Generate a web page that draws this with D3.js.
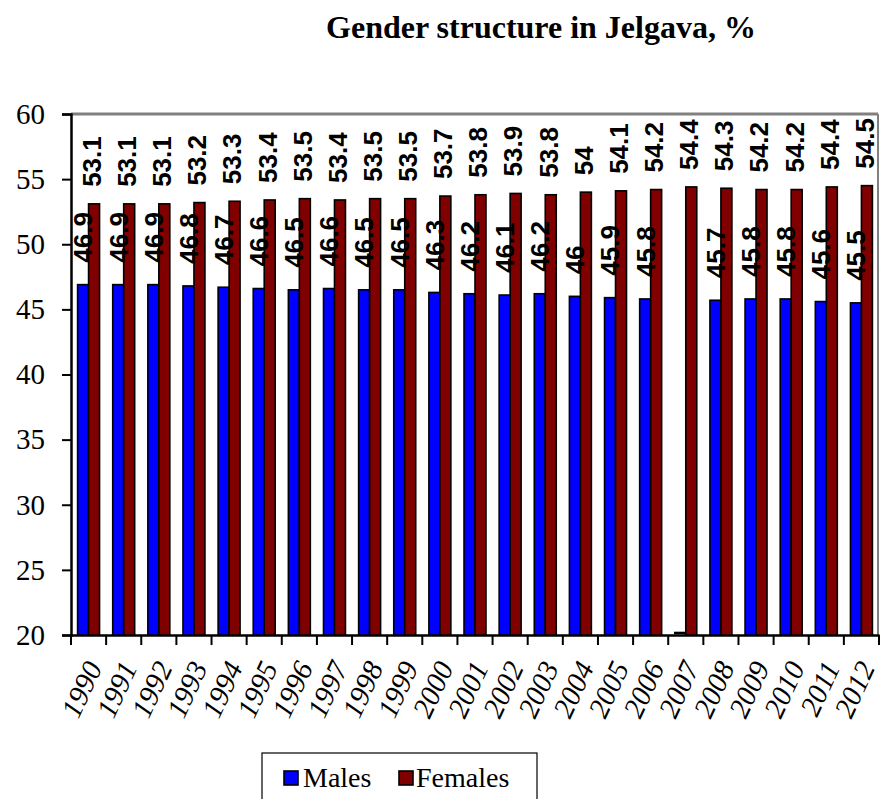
<!DOCTYPE html>
<html>
<head>
<meta charset="utf-8">
<script src="https://cdn.jsdelivr.net/npm/d3@7"></script>
<style>
  body { margin: 0; background: #fff; }
  svg { display: block; }
</style>
</head>
<body>
<div id="chart"></div>
<script>
// Data
const years = ["1990","1991","1992","1993","1994","1995","1996","1997","1998","1999","2000",
  "2001","2002","2003","2004","2005","2006","2007","2008","2009","2010","2011","2012"];
const males = [46.9,46.9,46.9,46.8,46.7,46.6,46.5,46.6,46.5,46.5,46.3,
  46.2,46.1,46.2,46,45.9,45.8,null,45.7,45.8,45.8,45.6,45.5];
const females = [53.1,53.1,53.1,53.2,53.3,53.4,53.5,53.4,53.5,53.5,53.7,
  53.8,53.9,53.8,54,54.1,54.2,54.4,54.3,54.2,54.2,54.4,54.5];
const series = ["Males", "Females"];
const colors = ["#0000ff", "#800000"];
const yTicks = [20, 25, 30, 35, 40, 45, 50, 55, 60];

const W = 880, H = 799;
const plot = { left: 71, right: 879, top: 114, bottom: 635 };
const SERIF = "'Liberation Serif', 'Times New Roman', serif";

const svg = d3.select("#chart").append("svg")
  .attr("width", W).attr("height", H);

// Title
svg.append("text")
  .attr("x", 541).attr("y", 38)
  .attr("text-anchor", "middle")
  .attr("font-family", SERIF)
  .style("font-weight", "bold")
  .style("font-size", "32px")
  .text("Gender structure in Jelgava, %");

// Scales
const x = d3.scaleBand().domain(years).range([plot.left, plot.right]).padding(0);
const xs = d3.scaleBand().domain(series).range([0, x.bandwidth()])
  .paddingInner(0).paddingOuter(0.6);
const y = d3.scaleLinear().domain([20, 60]).range([plot.bottom, plot.top]);

// Plot frame: grey top / right
svg.append("line")
  .attr("x1", plot.left).attr("x2", 878)
  .attr("y1", plot.top).attr("y2", plot.top)
  .attr("stroke", "#808080").attr("stroke-width", 3);
svg.append("line")
  .attr("x1", 878).attr("x2", 878)
  .attr("y1", plot.top).attr("y2", plot.bottom)
  .attr("stroke", "#808080").attr("stroke-width", 2);

// Axes
const yAxis = svg.append("g")
  .attr("transform", `translate(${plot.left},0)`)
  .call(d3.axisLeft(y).tickValues(yTicks).tickSize(9).tickPadding(17).tickFormat(d3.format("d")));
yAxis.attr("font-family", null);
yAxis.select(".domain").attr("stroke-width", 2.5);
yAxis.selectAll(".tick line").attr("stroke-width", 2);
yAxis.selectAll("text")
  .attr("font-family", SERIF)
  .style("font-size", "29px")
  .attr("fill", "#000");

const xAxis = svg.append("g")
  .attr("transform", `translate(0,${plot.bottom})`)
  .call(d3.axisBottom(x).tickSize(0).tickFormat(""));
xAxis.select(".domain").attr("stroke-width", 2.5);
xAxis.selectAll(".tick").remove();

// boundary ticks between categories
svg.append("g").selectAll("line")
  .data(years.concat(["end"]))
  .join("line")
  .attr("x1", (d, i) => plot.left + i * x.step())
  .attr("x2", (d, i) => plot.left + i * x.step())
  .attr("y1", plot.bottom).attr("y2", plot.bottom + 10)
  .attr("stroke", "#000").attr("stroke-width", 2);

// Bars (missing value drawn as a flat bar on the baseline)
const rows = years.map((yr, i) => ({ year: yr, values: [males[i], females[i]] }));
const groups = svg.append("g").selectAll("g")
  .data(rows).join("g")
  .attr("transform", d => `translate(${x(d.year)},0)`);

groups.selectAll("rect")
  .data(d => d.values.map((v, k) => ({ key: series[k], v: v, k: k })))
  .join("rect")
  .attr("x", d => xs(d.key))
  .attr("width", xs.bandwidth())
  .attr("y", d => d.v == null ? y(20) - 2.5 : y(d.v))
  .attr("height", d => d.v == null ? 1 : y(20) - y(d.v))
  .attr("fill", d => colors[d.k])
  .attr("stroke", "#000")
  .attr("stroke-width", 1.6);

// Year labels
svg.append("g").selectAll("text")
  .data(years).join("text")
  .attr("font-family", SERIF)
  .attr("transform", d => `translate(${x(d) + x.bandwidth() / 2 + 5},663) rotate(-65)`)
  .attr("text-anchor", "end")
  .attr("dy", "0.35em")
  .style("font-style", "italic")
  .style("font-size", "29px")
  .text(d => d);

// Value labels
const gap = [22, 17];
const shift = [0, -2.5];
groups.selectAll("text.val")
  .data(d => d.values.map((v, k) => ({ key: series[k], v: v, k: k })).filter(d => d.v != null))
  .join("text")
  .attr("class", "val")
  .attr("transform", d => `translate(${xs(d.key) + xs.bandwidth() / 2 + shift[d.k]},${y(d.v) - gap[d.k]}) rotate(-90)`)
  .attr("dy", "0.36em")
  .attr("text-anchor", "start")
  .style("font-family", "'Liberation Sans', Arial, sans-serif")
  .style("font-weight", "bold")
  .style("font-size", "26px")
  .text(d => d.v);

// Legend
const lg = svg.append("g");
lg.append("rect")
  .attr("x", 262).attr("y", 753).attr("width", 275).attr("height", 60)
  .attr("fill", "#fff").attr("stroke", "#000").attr("stroke-width", 1.2);
const items = [{ label: "Males", x: 284, tx: 303 }, { label: "Females", x: 399, tx: 416 }];
items.forEach((it, k) => {
  lg.append("rect")
    .attr("x", it.x).attr("y", 771).attr("width", 14).attr("height", 14)
    .attr("fill", colors[k]).attr("stroke", "#000").attr("stroke-width", 1.6);
  lg.append("text")
    .attr("font-family", SERIF)
    .attr("x", it.tx).attr("y", 787)
    .style("font-size", "28px")
    .text(it.label);
});
</script>
</body>
</html>
